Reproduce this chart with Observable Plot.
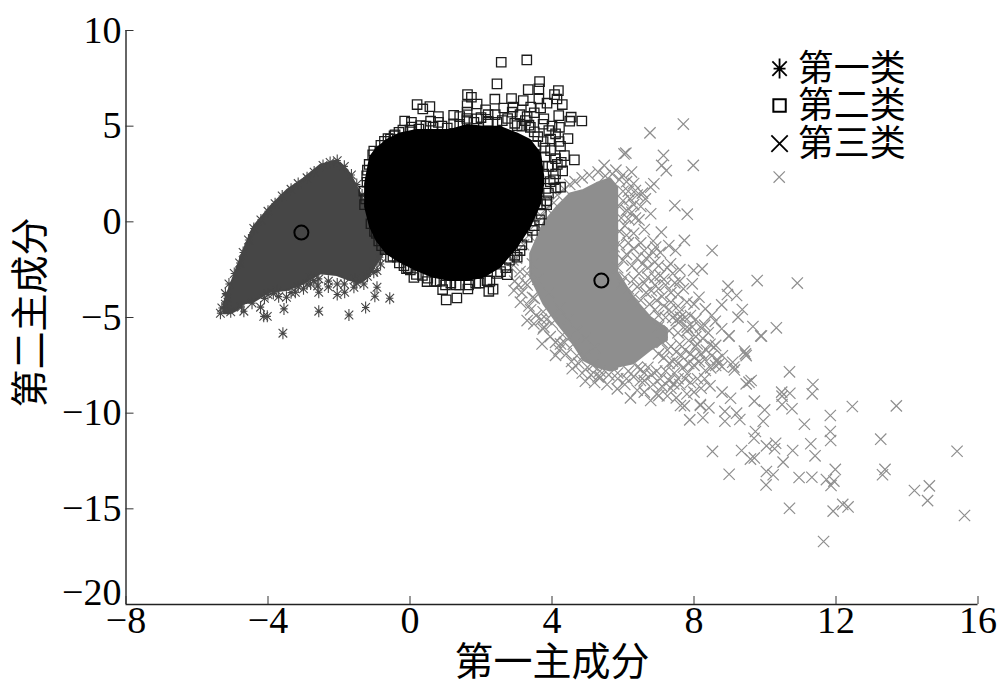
<!DOCTYPE html>
<html><head><meta charset="utf-8">
<style>html,body{margin:0;padding:0;background:#fff}svg{display:block}</style>
<script src="https://cdn.jsdelivr.net/npm/d3@7"></script>
<script src="https://cdn.jsdelivr.net/npm/@observablehq/plot@0.6"></script>
</head><body><div id="chart"></div>
<script>
const xTicks = [-8,-4,0,4,8,12,16];
const yTicks = [10,5,0,-5,-10,-15];
const yLastTick = [-20];
const xTitle = "第一主成分";
const yTitle = "第二主成分";
const legendNames = ["第一类","第二类","第三类"];
const legendX = [10.41,10.41,10.41];
const legendY = [8.01,6.08,4.09];
const legendTextX = [10.92,10.92,10.92];

const centers = [[-3.06,-0.56],[0.97,0.90],[5.39,-3.07]];

// dense bodies of each cluster: x, upper y, lower y
const core1X = [-5.24,-5.06,-4.87,-4.68,-4.40,-3.93,-3.46,-2.99,-2.52,-2.05,-1.68,-1.39,-1.16,-0.93,-0.74];
const core1Top = [-4.3,-3.4,-2.45,-1.50,-0.28,0.76,1.63,2.24,2.94,3.20,2.50,1.46,0.59,-0.98,-1.50];
const core1Bot = [-4.81,-4.81,-4.64,-4.29,-4.20,-3.68,-3.59,-3.25,-2.72,-2.81,-3.07,-3.20,-2.90,-2.20,-1.68];

const core2X = [-1.25,-1.11,-0.93,-0.64,-0.27,0.20,0.67,1.14,1.61,2.08,2.55,3.02,3.39,3.68,3.77];
const core2Top = [1.98,3.37,3.81,4.25,4.59,4.77,4.77,4.77,5.03,4.94,4.94,4.59,4.25,3.55,2.33];
const core2Bot = [0.76,-0.28,-0.98,-1.68,-2.11,-2.55,-2.90,-3.07,-3.07,-2.90,-2.37,-1.33,-0.28,0.94,1.98];

const core3aX = [3.40,3.77,4.15,4.52,4.90,5.27,5.65,5.85];
const core3aTop = [-1.67,-0.10,0.77,1.46,1.64,2.00,2.25,1.80];
const core3aBot = [-2.89,-4.30,-5.30,-6.15,-7.25,-7.60,-7.80,-7.70];
const core3bX = [5.50,5.84,6.31,6.78,7.25];
const core3bTop = [-2.6,-2.6,-4.0,-5.0,-5.6];
const core3bBot = [-7.6,-7.60,-7.42,-6.72,-6.2];

const class1 = [[-5.34,-4.78],[-4.68,-4.67],[-4.12,-4.94],[-4.02,-4.94],[-3.55,-4.55],[-3.58,-5.82],[-2.57,-4.67],[-1.72,-4.87],[-1.25,-4.48],[-0.99,-3.89],[-0.57,-3.99],[-0.93,-3.42],[-3.70,-3.91],[-3.48,-3.94],[-3.23,-3.68],[-2.57,-3.68],[-2.05,-3.80],[-1.84,-3.68],[-1.58,-3.42],[-2.90,-3.25],[-2.71,-3.07],[-2.57,-2.98],[-2.80,-2.90],[-2.05,-3.25],[-1.30,-3.25],[-1.02,-2.64],[-0.83,-2.20],[-0.78,-1.50],[-4.21,-4.46],
[-5.2,-3.75],[-5.1,-3.25],[-4.95,-2.7],[-4.8,-2.15],[-4.7,-1.6],[-4.55,-0.95],[-4.4,-0.35],[-4.2,0.1],[-4.0,0.55],[-3.8,0.95],[-3.6,1.35],[-3.35,1.7],[-3.15,2.0],[-2.9,2.3],[-2.7,2.6],[-2.45,2.95],[-2.25,3.1],[-2.05,3.2],[-1.85,2.9],[-1.65,2.45],[-1.5,1.95],[-1.35,1.4],[-5.05,-4.7],[-4.75,-4.45],[-4.45,-4.25],[-4.1,-4.0],[-3.85,-3.75],[-3.15,-3.4],[-2.3,-3.1],[-1.55,-3.0],
[-4.0,-3.8],[-3.75,-3.6],[-3.35,-3.7],[-3.0,-3.5],[-2.8,-3.25],[-2.6,-3.35],[-2.3,-3.4],[-1.85,-3.25],[-1.5,-3.2],[-1.2,-2.85],[-0.93,-2.55],[-0.85,-1.85],[-0.72,-1.3],[-5.3,-4.5],[-5.2,-4.3],[-5.15,-4.0]];

const class2 = [[2.57,8.34],[3.29,8.46],[2.45,7.21],[3.65,7.33],[3.33,6.91],[4.18,6.86],[1.62,6.65],[1.73,6.51],[2.39,6.41],[2.86,6.44],[3.19,6.34],[3.63,6.95],[4.07,6.65],[4.14,6.42],[4.29,6.13],[1.89,6.16],[1.61,6.08],[3.63,6.42],[3.86,6.20],[3.68,5.95],[0.20,6.13],[0.36,5.90],[0.56,6.02],[-0.15,5.27],[0.04,5.20],[0.58,5.26],[1.23,5.57],[1.61,5.73],[2.13,5.85],[2.64,5.95],[2.88,5.73],[3.25,5.29],[3.77,5.38],[4.19,5.55],[4.54,5.47],[4.50,5.26],[4.84,5.27],[4.21,4.94],[4.45,4.35],[3.96,4.33],[4.24,3.95],[4.35,3.46],[4.63,3.24],[4.26,3.11],[4.30,2.66],[4.10,2.50],[4.24,1.81],[4.10,1.77],[3.82,1.75],[3.96,3.72],[3.77,2.50],[3.68,0.94],[3.44,0.76],[3.21,-0.11],[3.16,0.41],[3.02,-1.85],[2.74,-2.76],[1.02,-4.08],[1.32,-3.98],[0.92,-3.54],[1.63,-3.51],[2.22,-3.63],[2.34,-3.52],[2.17,-3.07],[0.11,-2.91],[0.48,-3.12],[0.69,-3.12],[-0.17,-2.29],[0.01,-2.51],[-0.36,-1.85],[-0.85,3.64],[-0.72,4.21],[-0.55,4.33],[-1.21,2.07],[0.30,5.03],[-0.31,4.68],[1.23,5.12],[1.61,5.29],[1.89,5.38],[2.60,5.29],[3.02,5.03],[3.39,4.94],[3.91,4.77],
[-1.25,1.2],[-1.2,2.7],[-1.05,3.5],[-0.95,-0.6],[-0.8,-1.25],[-0.55,-1.85],[-0.1,-2.45],[0.35,-2.8],[0.85,-3.1],[1.3,-3.3],[1.85,-3.2],[2.45,-2.7],[2.8,-2.0],[3.15,-1.2],[3.5,-0.2],[3.7,0.4],[3.85,1.1],[3.9,2.9],[3.8,3.4],[3.55,4.0],[2.2,5.2],[0.9,5.0],[0.0,4.8],[-0.45,4.5],
[-1.3,1.6],[-1.28,0.9],[-1.22,2.4],[-1.15,3.0],[-1.1,-0.1],[-1.02,3.7],[-1.0,-0.5],[-0.88,-1.0],[-0.82,4.0],[-0.7,-1.45],[-0.62,4.35],[-0.48,-1.8],[-0.42,4.55],[-0.3,-2.15],[-0.2,4.8],[-0.05,-2.4],[0.05,4.95],[0.18,-2.75],[0.25,4.85],[0.45,5.0],[0.5,-2.95],[0.65,4.95],[0.75,-3.1],[0.8,5.2],[1.0,-3.3],[1.05,4.9],[1.15,-3.2],[1.4,-3.3],[1.4,5.1],[1.6,5.4],[1.65,-3.3],[1.8,5.2],[1.95,-3.2],[2.0,5.45],[2.2,5.25],[2.25,-3.1],[2.4,5.6],[2.45,5.2],[2.55,-2.6],[2.75,5.4],[2.7,-2.4],[2.95,5.15],[2.95,-1.75],[3.15,5.0],[3.1,-1.5],[3.3,-0.8],[3.35,5.05],[3.5,4.7],[3.45,-0.45],[3.6,4.45],[3.65,0.1],[3.75,4.2],[3.8,3.85],[3.85,0.9],[3.9,1.5],[3.95,2.1],[4.0,2.9],[3.1,5.6],[3.5,5.7],[2.9,6.0],[3.4,6.0],[3.75,5.1],[4.0,5.0],[4.1,4.6],[4.2,4.2],[4.1,3.3],[4.05,2.2],[4.15,3.0],[3.3,5.5],[2.2,5.6],[1.4,5.5],[0.8,5.5]];

const class3 = [[8.99,-5.96],[9.88,-5.96],[9.42,-6.76],[9.47,-6.99],[9.09,-7.34],[9.14,-7.74],[8.61,-7.51],[8.32,-7.77],[8.47,-7.63],[8.70,-7.42],[8.79,-7.56],[10.69,-7.84],[11.35,-8.50],[11.33,-8.99],[9.61,-8.29],[9.47,-8.47],[8.45,-8.57],[8.79,-8.90],[9.03,-9.22],[10.47,-8.90],[10.70,-8.96],[10.48,-9.11],[10.48,-9.55],[10.76,-9.77],[9.70,-9.37],[9.99,-9.83],[9.95,-10.42],[12.46,-9.65],[13.70,-9.62],[11.84,-10.12],[11.84,-10.96],[11.85,-11.43],[11.11,-10.58],[8.87,-9.91],[8.87,-10.42],[9.20,-10.00],[9.29,-10.33],[8.25,-10.24],[7.88,-10.35],[8.18,-9.55],[8.42,-9.72],[7.73,-9.62],[9.73,-10.96],[9.69,-11.31],[13.26,-11.36],[15.41,-11.99],[8.52,-12.00],[9.34,-11.95],[10.04,-11.71],[10.30,-11.57],[10.27,-11.86],[10.78,-11.95],[11.29,-11.60],[11.41,-12.23],[9.70,-12.34],[9.59,-12.40],[10.51,-12.56],[8.99,-13.19],[10.04,-13.05],[10.23,-13.22],[10.03,-13.75],[10.96,-13.36],[11.32,-13.35],[11.98,-12.94],[11.73,-13.47],[11.94,-13.55],[11.86,-13.78],[13.38,-12.94],[13.31,-13.22],[14.21,-14.04],[14.63,-13.80],[14.58,-14.57],[15.62,-15.35],[10.69,-14.97],[11.92,-15.12],[12.19,-14.77],[12.34,-14.90],[11.65,-16.71],
[7.70,5.11],[6.76,4.65],[6.08,3.59],[6.03,3.55],[7.14,3.47],[7.98,2.95],[7.09,2.95],[7.22,2.68],[10.40,2.34],[6.24,2.60],[5.47,2.95],[6.87,1.99],[6.78,1.81],[6.35,1.64],[7.46,0.85],[7.81,0.40],[6.63,1.20],[6.78,0.42],[7.08,-0.54],[7.73,-0.97],[8.51,-1.50],[7.29,-1.24],[7.48,-1.50],[6.92,-1.32],[7.34,-2.19],[7.99,-2.54],[8.23,-2.46],[9.78,-3.07],[10.91,-3.20],[7.46,-3.19],[7.95,-3.24],[8.96,-3.36],[8.94,-3.80],[9.20,-3.85],[8.14,-3.94],[8.78,-4.34],[8.32,-4.55],[9.36,-4.58],[9.24,-4.98],[9.66,-5.47],[10.32,-5.54],[9.90,-5.97],[8.78,-5.59],[8.98,-5.97],[8.18,-5.50],[8.61,-6.46],[9.45,-6.90],[8.0,-7.07],[9.12,-7.59],[9.55,-8.38],
[2.93,-3.59],[3.11,-4.20],[3.30,-5.16],[3.72,-6.38],[4.10,-6.98],[4.57,-7.68],[4.94,-8.33],[5.84,-8.73],[6.21,-9.20],[6.78,-9.34],[7.01,-9.08],[7.62,-9.60],[8.18,-9.6],[4.24,-6.38],[3.77,-5.50],[3.49,-5.33],[5.37,-8.12],[6.49,-8.29],[7.43,-8.47],[7.81,-7.94],[8.56,-6.55],[8.09,-6.38],[7.81,-5.50],[7.62,-4.98],
[3.0,-1.9],[3.1,-2.6],[3.2,-1.2],[3.3,-3.3],[3.35,-0.7],[3.45,-2.2],[3.5,-4.0],[3.55,-0.1],[3.6,-3.0],[3.7,0.3],[3.75,-4.7],[3.85,0.7],[3.9,-3.7],[4.0,-5.3],[4.05,1.0],[4.15,1.4],[4.2,-4.5],[4.3,-5.9],[4.35,1.7],[4.45,-5.1],[4.5,1.95],[4.6,-6.4],[4.65,2.1],[4.7,-5.7],[4.85,2.3],[4.9,-7.0],[4.95,-6.1],[5.05,2.45],[5.15,-7.5],[5.2,-6.6],
[5.7,2.5],[5.9,2.2],[6.0,1.6],[6.1,2.1],[6.2,1.2],[6.25,0.5],[6.05,-0.2],[6.3,-0.6],[6.45,0.1],[6.5,0.8],[6.55,1.5],[6.6,-0.4],[5.9,-1.2],[6.1,-1.7],[6.3,-1.4],[6.5,-1.1],[6.65,-1.9],[6.85,-1.0],[5.85,-2.4],[6.05,-2.9],[6.25,-2.3],[6.45,-2.7],[6.7,-2.4],[6.9,-2.1],[7.05,-2.8],[6.15,-3.5],[6.4,-3.4],[6.6,-3.2],[6.8,-3.6],[7.0,-3.5],[7.2,-3.3],[6.5,-4.1],[6.75,-4.3],[6.95,-4.1],[7.15,-4.4],[7.35,-4.2],[7.55,-3.8],[7.0,-4.9],[7.2,-5.0],[7.4,-5.0],[7.5,-5.15],[7.6,-5.2],[7.75,-5.0],[7.0,-5.5],[7.3,-5.7],[7.55,-5.8],[7.8,-5.7],[7.1,-6.3],[7.35,-6.5],[7.6,-6.4],[7.85,-6.2],[8.05,-6.0],[8.25,-6.1],[7.15,-7.1],[7.4,-7.3],[7.65,-7.0],[7.9,-6.9],[8.2,-6.9],[6.7,-7.6],[6.95,-7.8],[7.2,-7.8],[7.45,-7.9],[7.7,-7.6],[8.0,-7.5],[6.3,-8.1],[6.6,-8.3],[6.85,-8.5],[7.1,-8.6],[7.35,-8.7],[7.6,-8.5],[7.9,-8.4],[8.1,-8.2],[5.6,-8.0],[5.85,-8.2],[6.05,-8.5],[5.35,-7.8],[5.1,-8.0],[4.75,-7.4],[4.4,-6.9],[4.2,-6.7],[3.95,-6.0],[3.75,-5.6],[3.55,-4.9],[3.35,-4.4],[3.15,-3.7],[2.95,-3.1],[2.85,-2.4],
[5.3,2.6],[5.5,2.4],[5.8,2.7],[6.0,2.45],[6.3,2.0],[6.4,1.4],[6.15,1.6],[6.3,0.9],[6.0,1.1],[6.1,0.6],[5.9,0.8],[5.95,0.2],[6.15,0.15],[6.35,0.2],[5.9,-0.5],[6.1,-0.7],[5.75,-1.3],[6.15,-1.1],[6.4,-1.9],[6.0,-2.0],[6.6,-1.5],[6.85,-1.6],[7.05,-1.6],[7.0,-2.3],[6.55,-2.2],[6.9,-2.9],[6.7,-2.9],[6.3,-3.0],[5.95,-3.2],[6.3,-3.9],[6.65,-3.7],[6.9,-3.3],[7.15,-3.0],[7.35,-3.7],[7.1,-3.9],[7.55,-4.4],[7.3,-4.6],[6.9,-4.6],[7.6,-4.7],[7.9,-4.9],[8.05,-5.1],[7.95,-5.5],[8.3,-5.4],[8.4,-5.8],[8.45,-6.4],[8.05,-6.5],[7.75,-6.7],[7.5,-6.8],[7.25,-6.7],[7.0,-6.9],[7.55,-7.4],[7.3,-7.4],[7.85,-7.4],[8.15,-7.3],[8.3,-7.2],[6.5,-7.7],[6.4,-7.6],[6.8,-8.0],[7.05,-8.2],[7.3,-8.3],[7.55,-8.2],[7.75,-8.2],[8.3,-8.2],[6.15,-7.8],[6.6,-7.9],[6.4,-8.8],[6.6,-8.9],[6.95,-9.0],[7.25,-9.1],[7.5,-9.2],[7.8,-9.0],[8.0,-8.9],[8.2,-8.7],[5.55,-8.5],[5.2,-8.4],[4.85,-7.9],[4.55,-7.3],[3.85,-5.1],[3.45,-3.95],[3.25,-3.2],[2.9,-2.0],[4.1,-6.3],[3.7,-5.1],[3.3,-2.7],[3.05,-3.3],[3.4,-4.6],[4.35,-6.3],[4.7,-7.0],[5.0,-7.6],[5.3,-8.1],[5.85,-7.9],[6.1,-8.2],[8.5,-7.0],[8.65,-7.2],[8.35,-6.7],[8.8,-7.0],[8.6,-5.2],[8.5,-4.9],[8.0,-4.3],[7.8,-4.2],[7.7,-3.5],[7.4,-2.7],[7.6,-2.5],[7.6,-3.1],[7.25,-2.4]];

const latin = "'Liberation Serif','Times New Roman',serif";
const cjk = "'Noto Sans CJK SC',sans-serif";
const grey1 = "#464646", black2 = "#1c1c1c", grey3 = "#8e8e8e";
const minus = d => String(d).replace("-","\u2212");

const star = {draw(c, size){
  const r = Math.sqrt(size/Math.PI), d = r*0.72;
  c.moveTo(0,-r); c.lineTo(0,r);
  c.moveTo(-d,-d); c.lineTo(d,d);
  c.moveTo(-d,d); c.lineTo(d,-d);
  c.moveTo(-r*0.6,0); c.lineTo(r*0.6,0);
}};
const core = (xs,top,bot,color) => Plot.areaY(xs,{x:d=>d,y1:(d,i)=>top[i],y2:(d,i)=>bot[i],fill:color,stroke:color,strokeWidth:2});
const pts = (data,symbol,r,color,sw) => Plot.dot(data,{x:d=>d[0],y:d=>d[1],symbol,r,stroke:color,strokeWidth:sw,fill:"none"});

const chart = Plot.plot({
  width:1000,height:691,
  marginLeft:125.5,marginRight:22.5,marginTop:30,marginBottom:87,
  style:{background:"#fff",fontFamily:latin,overflow:"visible"},
  x:{domain:[-8,16],label:null},
  y:{domain:[-20,10],label:null},
  marks:[
    core(core1X,core1Top,core1Bot,grey1),
    pts(class1,star,6,grey1,1.1),
    core(core3aX,core3aTop,core3aBot,grey3),
    core(core3bX,core3bTop,core3bBot,grey3),
    pts(class3,"times",5.2,grey3,1.2),
    pts(class2,"square",5.3,black2,1.3),
    core(core2X,core2Top,core2Bot,"#000"),
    Plot.dot(centers,{x:d=>d[0],y:d=>d[1],r:7,stroke:"#000",strokeWidth:2,fill:"none"}),
    Plot.ruleX([-8],{stroke:"#333",strokeWidth:1.5}),
    Plot.ruleY([-20],{stroke:"#222",strokeWidth:1.5}),
    Plot.axisX({ticks:xTicks,tickSize:-8,tickPadding:10,label:null,fontSize:38,fontFamily:latin,fill:"#000",stroke:"#333",tickFormat:minus,marginBottom:87}),
    Plot.axisY({ticks:yTicks,tickSize:-8,tickPadding:12.5,label:null,fontSize:38,fontFamily:latin,fill:"#000",stroke:"#333",tickFormat:minus,marginLeft:125.5}),
    Plot.text(yLastTick,{x:()=>-8,y:d=>d,text:minus,dx:-4.5,dy:-12,textAnchor:"end",fontSize:38,fontFamily:latin,fill:"#000"}),
    Plot.text([xTitle],{frameAnchor:"bottom",dy:70,fontSize:39,fontFamily:cjk,fill:"#000"}),
    Plot.text([yTitle],{frameAnchor:"left",textAnchor:"middle",rotate:-90,dx:-95,dy:-5,fontSize:38,fontFamily:cjk,fill:"#000"}),
    Plot.dot([0],{x:()=>legendX[0],y:()=>legendY[0],symbol:star,r:10,stroke:"#000",strokeWidth:1.8}),
    Plot.dot([1],{x:()=>legendX[1],y:()=>legendY[1],symbol:"square",r:7,stroke:"#000",strokeWidth:2}),
    Plot.dot([2],{x:()=>legendX[2],y:()=>legendY[2],symbol:"times",r:7.5,stroke:"#000",strokeWidth:1.8}),
    Plot.text(legendNames,{x:(d,i)=>legendTextX[i],y:(d,i)=>legendY[i],text:d=>d,dy:1,textAnchor:"start",fontSize:36,fontFamily:cjk,fill:"#000"})
  ]
});
document.getElementById("chart").appendChild(chart);
</script></body></html>
